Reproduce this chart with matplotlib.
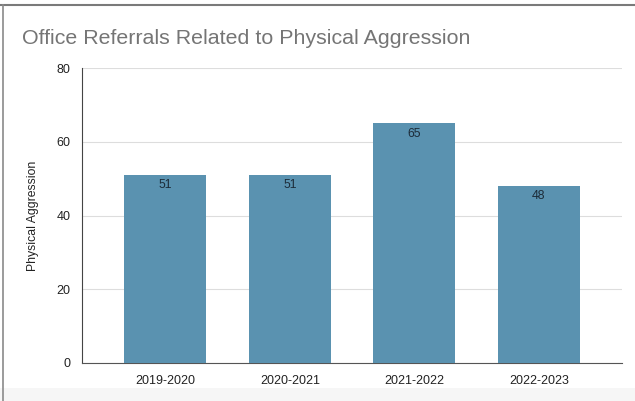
import matplotlib.pyplot as plt
from matplotlib.lines import Line2D
from matplotlib.patches import Rectangle

# Daten
years = ['2019-2020', '2020-2021', '2021-2022', '2022-2023']
referrals = [51, 51, 65, 48]
y_ticks = [0, 20, 40, 60, 80]

plt.rcParams['font.family'] = ['Liberation Sans', 'DejaVu Sans']

fig = plt.figure(figsize=(6.35, 4.01), dpi=100)
ax = fig.add_axes([0.129, 0.095, 0.851, 0.735])

x = range(len(years))
bars = ax.bar(x, referrals, width=0.66, color='#5a92b0', zorder=3)

# Werte in den Balken
for xi, v in zip(x, referrals):
    ax.text(xi, v - 1.2, str(v), ha='center', va='top', fontsize=8.8,
            color='#1c2b38', zorder=4)

ax.set_xlim(-0.67, 3.67)
ax.set_ylim(0, 80)
ax.set_yticks(y_ticks)
ax.set_xticks(list(x))
ax.set_xticklabels(years)
ax.tick_params(axis='both', length=0, labelsize=9, colors='#222222')
ax.tick_params(axis='y', pad=8)
ax.tick_params(axis='x', pad=9)
ax.grid(axis='y', color='#dddddd', linewidth=0.8, zorder=0)
for s in ['top', 'right']:
    ax.spines[s].set_visible(False)
ax.spines['left'].set_color('#444444')
ax.spines['bottom'].set_color('#555555')
ax.set_ylabel('Physical Aggression', fontsize=8.8, color='#222222', labelpad=13)

fig.text(0.035, 0.905, 'Office Referrals Related to Physical Aggression',
         fontsize=15.4, color='#757575', ha='left', va='center')

# Rahmen und unterer grauer Streifen
fig.patches.append(Rectangle((0, 0), 1, 0.033, transform=fig.transFigure,
                             facecolor='#f6f6f6', edgecolor='none', zorder=-1))
fig.lines.append(Line2D([0, 1], [0.9875, 0.9875], transform=fig.transFigure,
                        color='#7a7a7a', linewidth=1.5))
fig.lines.append(Line2D([0.005, 0.005], [0, 0.9875], transform=fig.transFigure,
                        color='#8a8a8a', linewidth=1.2))

fig.savefig('out.png', dpi=100)
